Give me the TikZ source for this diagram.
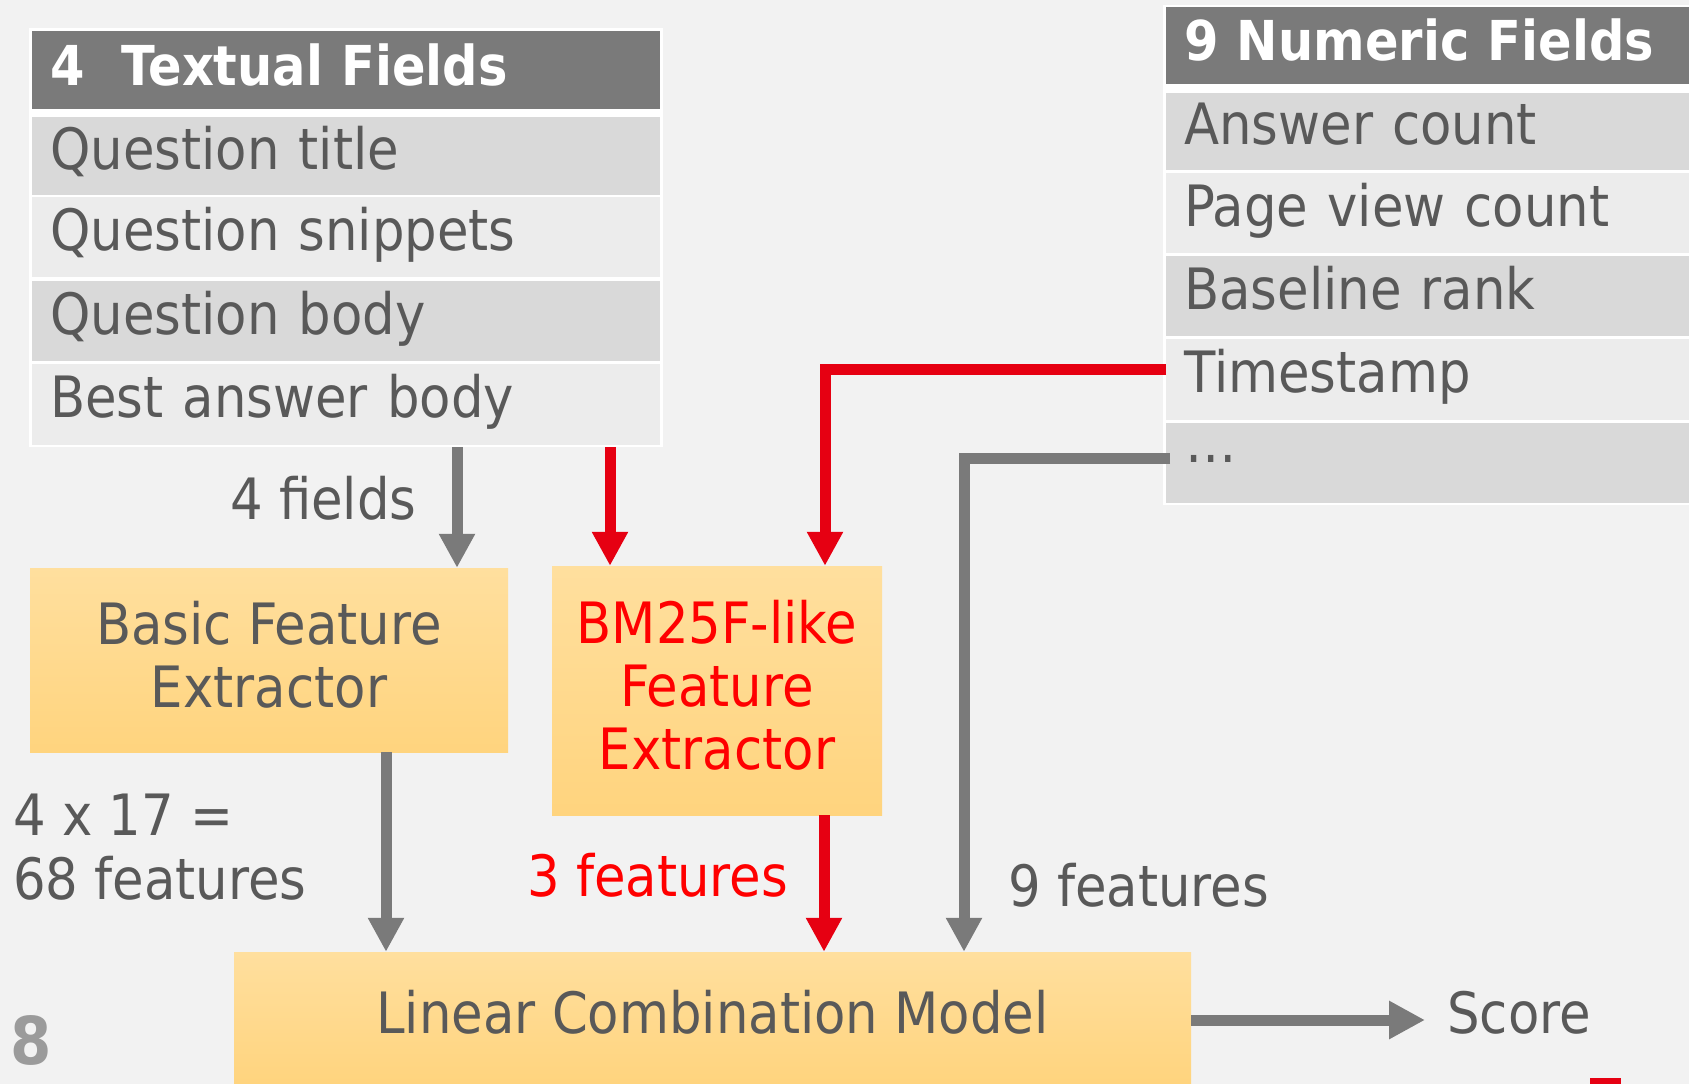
\documentclass[tikz,border=0pt]{standalone}
\usepackage{fontspec}
\setmainfont{DejaVu Sans}[FakeStretch=0.9]
\usetikzlibrary{arrows.meta}
\definecolor{bg}{HTML}{F2F2F2}
\definecolor{hdr}{HTML}{7A7A7A}
\definecolor{rowA}{HTML}{D9D9D9}
\definecolor{rowB}{HTML}{ECECEC}
\definecolor{txt}{HTML}{595959}
\definecolor{agray}{HTML}{7A7A7A}
\definecolor{ared}{HTML}{E60012}
\definecolor{tred}{HTML}{FF0000}
\definecolor{boxtop}{HTML}{FFDF9E}
\definecolor{boxbot}{HTML}{FFD47E}
\definecolor{pgnum}{HTML}{9B9B9B}
\begin{document}
\begin{tikzpicture}[x=1pt,y=-1pt,
  every node/.style={font=\fontsize{57}{63}\selectfont, text=txt},
  hdrcell/.style={fill=hdr, anchor=north west, inner xsep=18pt, inner ysep=0pt, align=left,
    text=white, font=\fontsize{55}{63}\selectfont\bfseries, text height=44pt, text depth=14pt},
  cell/.style={anchor=north west, inner xsep=18pt, inner ysep=0pt, align=left,
    text height=42pt, text depth=16pt},
  tablebg/.style={fill=white, anchor=north west, inner sep=0pt},
  fbox/.style={top color=boxtop, bottom color=boxbot, align=center, inner sep=0pt, text depth=12pt},
  lbl/.style={anchor=base west, inner sep=0pt},
  garrow/.style={draw=agray, line width=11pt, -{Triangle[length=34pt,width=34pt]}},
  rarrow/.style={draw=ared, line width=11pt, -{Triangle[length=34pt,width=34pt]}},
  sarrow/.style={draw=agray, line width=11pt, -{Triangle[length=36pt,width=36pt]}}
]
\fill[bg] (0,0) rectangle (1689,1084);
\useasboundingbox (0,0) rectangle (1689,1084);

% Textual fields table
\node[tablebg, minimum width=634pt, minimum height=419pt] (ttab) at (29,28) {};
\node[hdrcell, minimum width=628pt, minimum height=78pt, text width=592pt] (thdr) at (32,31) {4\ \ Textual Fields};
\node[cell, fill=rowA, minimum width=628pt, minimum height=78pt, text width=592pt] (tr1) at (32,117) {Question title};
\node[cell, fill=rowB, minimum width=628pt, minimum height=80pt, text width=592pt] (tr2) at (32,197) {Question snippets};
\node[cell, fill=rowA, minimum width=628pt, minimum height=80pt, text width=592pt] (tr3) at (32,281) {Question body};
\node[cell, fill=rowB, minimum width=628pt, minimum height=81pt, text width=592pt] (tr4) at (32,364) {Best answer body};

% Numeric fields table
\node[tablebg, minimum width=540pt, minimum height=500pt] (ntab) at (1163,5) {};
\node[hdrcell, minimum width=540pt, minimum height=77pt, text width=504pt] (nhdr) at (1166,7) {9 Numeric Fields};
\node[cell, fill=rowA, minimum width=540pt, minimum height=77pt, text width=504pt] (nr1) at (1166,93) {Answer count};
\node[cell, fill=rowB, minimum width=540pt, minimum height=80pt, text width=504pt] (nr2) at (1166,173) {Page view count};
\node[cell, fill=rowA, minimum width=540pt, minimum height=80pt, text width=504pt] (nr3) at (1166,256) {Baseline rank};
\node[cell, fill=rowB, minimum width=540pt, minimum height=81pt, text width=504pt] (nr4) at (1166,339) {Timestamp};
\node[cell, fill=rowA, minimum width=540pt, minimum height=80pt, text width=504pt] (nr5) at (1166,423) {};
\node[lbl] (dots) at (1185,462) {…};

% Boxes
\node[fbox, minimum width=478pt, minimum height=184pt] (basic) at (269,660) {Basic Feature\\Extractor};
\node[fbox, minimum width=330pt, minimum height=249pt, text=tred] (bm) at (717,690.5) {BM25F-like\\Feature\\Extractor};
\node[fbox, minimum width=957pt, minimum height=132pt] (lin) at (712.5,1018) {Linear Combination Model};

% Labels
\node[lbl] (l4f) at (230,519) {4 fields};
\node[lbl] (l417) at (13,835) {4 x 17 =};
\node[lbl] (l68) at (13,899) {68 features};
\node[lbl, text=tred] (l3) at (527,896) {3 features};
\node[lbl] (l9) at (1008,906) {9 features};
\node[lbl] (score) at (1447,1033) {Score};
\node[lbl, font=\fontsize{66}{66}\selectfont\bfseries, text=pgnum] (pg) at (10,1064) {8};

% Connectors
\draw[garrow] (ttab.south -| 457,0) -- (basic.north -| 457,0);
\draw[rarrow] (ttab.south -| 610,0) -- (bm.north -| 610,0);
\draw[rarrow] (nr4.west |- 0,369) -| (bm.north -| 825,0);
\draw[garrow] ([xshift=4pt]nr5.west |- 0,458) -| (lin.north -| 964,0);
\draw[garrow] (basic.south -| 386,0) -- (lin.north -| 386,0);
\draw[rarrow] (bm.south -| 824,0) -- (lin.north -| 824,0);
\draw[sarrow] (lin.east |- 0,1020) -- ([xshift=-22pt]score.west |- 0,1020);

% red mark at bottom right
\fill[ared] (1590,1078) rectangle (1621,1090);
\end{tikzpicture}
\end{document}
